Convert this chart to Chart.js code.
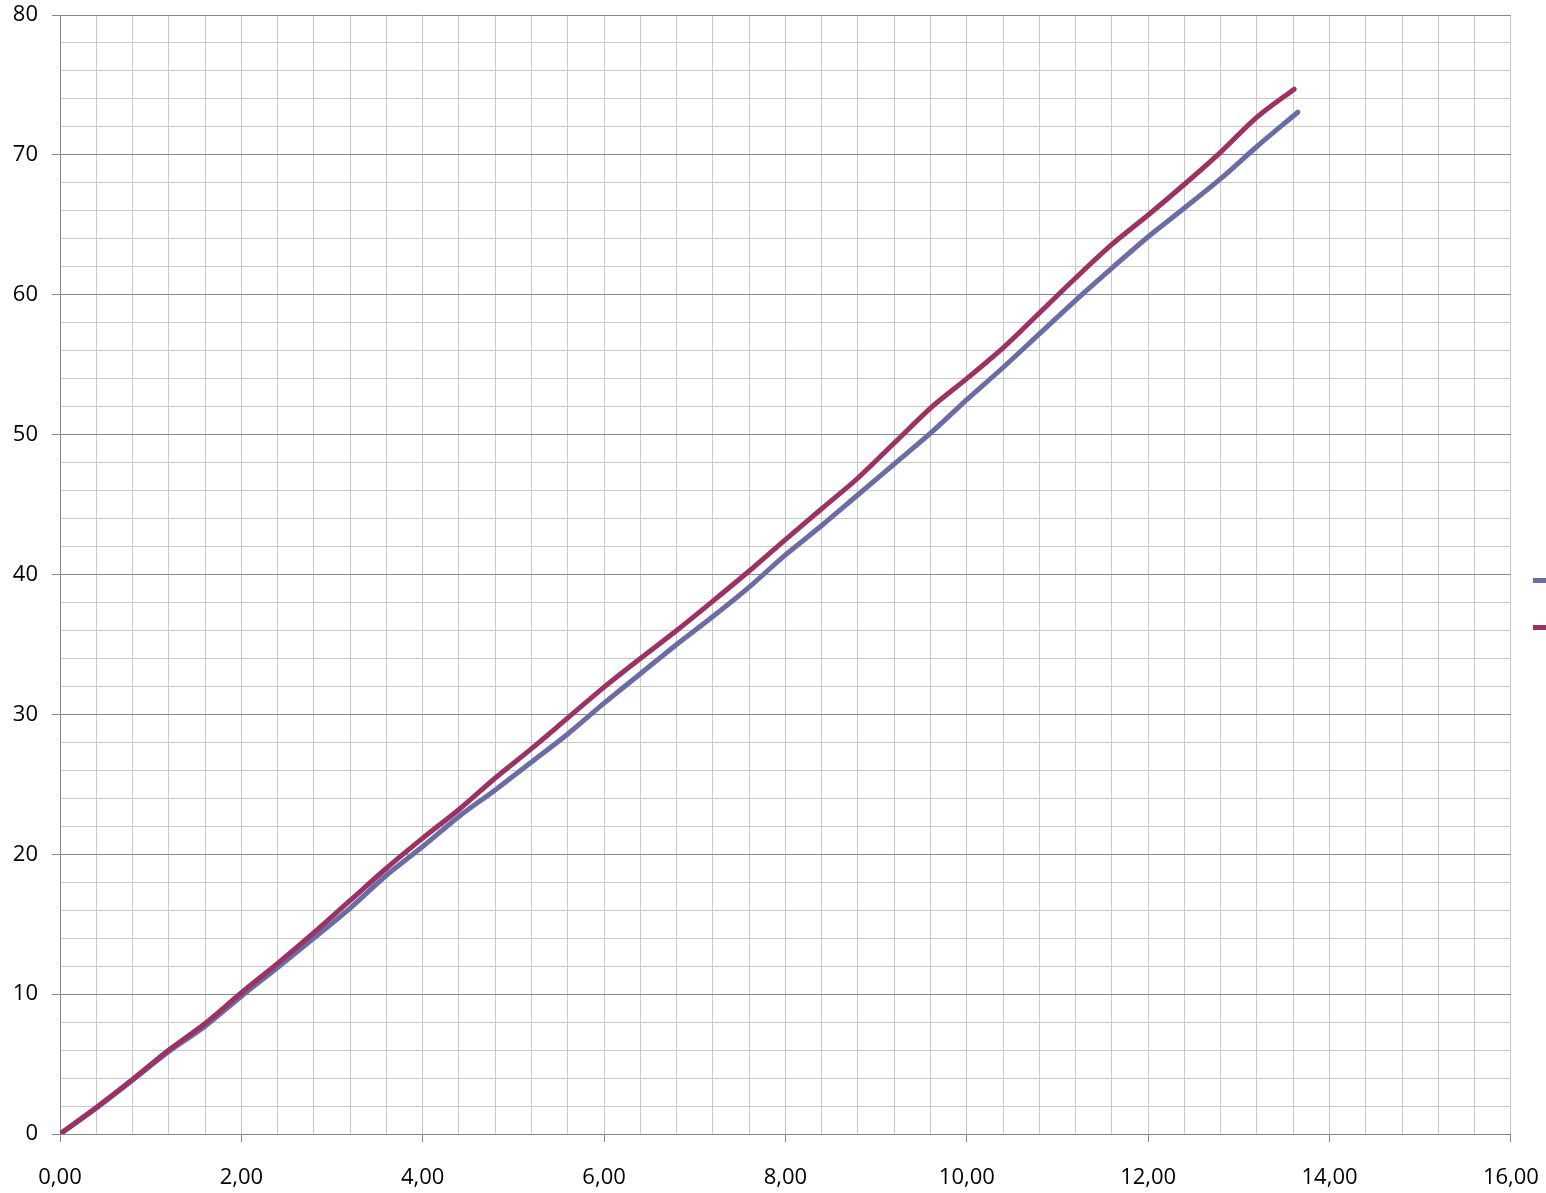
<!DOCTYPE html>
<html>
<head>
<meta charset="utf-8">
<script src="https://cdn.jsdelivr.net/npm/chart.js@4.4.1/dist/chart.umd.min.js"></script>
<style>
  html, body { margin: 0; padding: 0; background: #ffffff; overflow: hidden; width: 1546px; height: 1193px; }
  #wrap { position: absolute; left: 0; top: 0; }
</style>
</head>
<body>
<div id="wrap"><canvas id="c" width="1658" height="1193"></canvas></div>
<script>
// Series names (legend text is cut off at the right edge in the reference)
const seriesNames = ['Série1', 'Série2'];

// Series 1 (blue)
const xBlue = [0, 0.4, 0.8, 1.2, 1.6, 2.0, 2.4, 2.8, 3.2, 3.6, 4.0, 4.4, 4.8, 5.2, 5.6, 6.0, 6.4, 6.8, 7.2, 7.6, 8.0, 8.4, 8.8, 9.2, 9.6, 10.0, 10.4, 10.8, 11.2, 11.6, 12.0, 12.4, 12.8, 13.2, 13.65];
const yBlue = [0, 1.85, 3.85, 5.9, 7.7, 9.85, 11.9, 14.0, 16.15, 18.5, 20.55, 22.7, 24.6, 26.6, 28.6, 30.8, 32.9, 35.0, 37.0, 39.1, 41.4, 43.5, 45.7, 47.9, 50.1, 52.5, 54.8, 57.2, 59.6, 61.9, 64.15, 66.2, 68.3, 70.6, 73.05];

// Series 2 (red)
const xRed = [0, 0.4, 0.8, 1.2, 1.6, 2.0, 2.4, 2.8, 3.2, 3.6, 4.0, 4.4, 4.8, 5.2, 5.6, 6.0, 6.4, 6.8, 7.2, 7.6, 8.0, 8.4, 8.8, 9.2, 9.6, 10.0, 10.4, 10.8, 11.2, 11.6, 12.0, 12.4, 12.8, 13.2, 13.61];
const yRed = [0, 1.9, 3.9, 6.0, 7.9, 10.1, 12.2, 14.4, 16.7, 19.0, 21.15, 23.2, 25.45, 27.55, 29.75, 31.95, 34.0, 36.0, 38.1, 40.25, 42.5, 44.7, 46.9, 49.4, 51.9, 54.0, 56.2, 58.7, 61.2, 63.6, 65.7, 67.9, 70.2, 72.7, 74.7];

// Axis settings
const xMin = 0, xMax = 16, xMinorStep = 0.4, xMajorStep = 2;
const yMin = 0, yMax = 80, yMinorStep = 2, yMajorStep = 10;

const BLUE = '#6A6CA6';
const RED = '#9C3263';
const MAJOR = '#888888';
const MINOR = '#C9C9C9';

function isMajor(v, step) {
  const r = v / step;
  return Math.abs(r - Math.round(r)) < 1e-6;
}
function toPts(xs, ys) { return xs.map((x, i) => ({ x: x, y: ys[i] })); }

const font = { family: "'Open Sans', 'Liberation Sans', sans-serif", size: 22 };

new Chart(document.getElementById('c'), {
  type: 'scatter',
  data: {
    datasets: [
      { label: seriesNames[0], data: toPts(xBlue, yBlue), showLine: true, borderColor: BLUE, backgroundColor: BLUE,
        borderWidth: 5, pointRadius: 0, tension: 0.3, borderCapStyle: 'round', borderJoinStyle: 'round', order: 1 },
      { label: seriesNames[1], data: toPts(xRed, yRed), showLine: true, borderColor: RED, backgroundColor: RED,
        borderWidth: 5, pointRadius: 0, tension: 0.3, borderCapStyle: 'round', borderJoinStyle: 'round', order: 0 }
    ]
  },
  options: {
    responsive: false,
    animation: false,
    events: [],
    layout: { padding: { top: 15, left: 0, right: 0, bottom: 0 } },
    plugins: {
      tooltip: { enabled: false },
      legend: {
        display: true,
        position: 'right',
        labels: {
          usePointStyle: true,
          pointStyle: 'line',
          pointStyleWidth: 30,
          padding: 22,
          color: '#000',
          font: { family: font.family, size: 25 },
          sort: (a, b) => a.datasetIndex - b.datasetIndex
        }
      }
    },
    scales: {
      x: {
        type: 'linear',
        min: xMin, max: xMax,
        afterFit: (s) => { s.height = 59; },
        border: { display: true, color: MAJOR, width: 1 },
        grid: {
          color: MINOR,
          lineWidth: 1,
          drawTicks: true,
          tickLength: 8,
          tickColor: (ctx) => (ctx.tick && isMajor(ctx.tick.value, xMajorStep)) ? MAJOR : 'rgba(0,0,0,0)'
        },
        ticks: {
          stepSize: xMinorStep,
          autoSkip: false,
          maxRotation: 0,
          padding: 23,
          color: '#000',
          font: font,
          callback: (v) => isMajor(v, xMajorStep) ? Number(v).toFixed(2).replace('.', ',') : ''
        }
      },
      y: {
        type: 'linear',
        min: yMin, max: yMax,
        afterFit: (s) => { s.width = 60; s.paddingTop = 0; s.paddingBottom = 0; },
        border: { display: true, color: MAJOR, width: 1 },
        grid: {
          color: (ctx) => (ctx.tick && isMajor(ctx.tick.value, yMajorStep)) ? MAJOR : MINOR,
          lineWidth: 1,
          drawTicks: true,
          tickLength: 8,
          tickColor: (ctx) => (ctx.tick && isMajor(ctx.tick.value, yMajorStep)) ? MAJOR : 'rgba(0,0,0,0)'
        },
        ticks: {
          stepSize: yMinorStep,
          autoSkip: false,
          padding: 14,
          color: '#000',
          font: font,
          callback: (v) => isMajor(v, yMajorStep) ? String(Math.round(v)) : ''
        }
      }
    }
  }
});
</script>
</body>
</html>
